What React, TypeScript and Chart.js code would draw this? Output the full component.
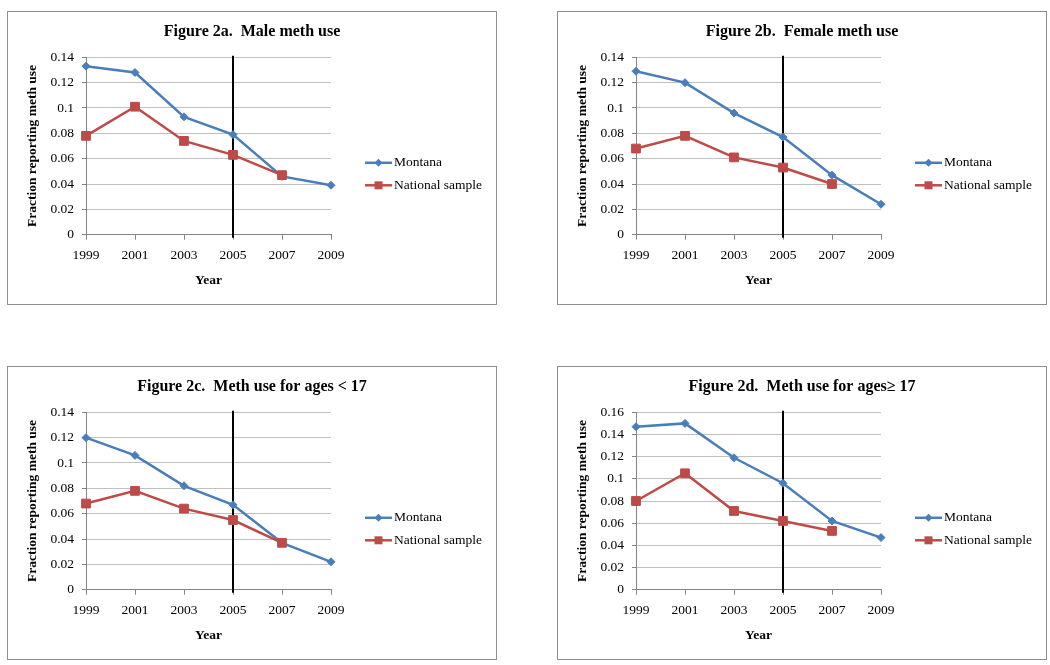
import React, { useEffect, useRef } from 'react';
import { Chart, registerables } from 'chart.js';

Chart.register(...registerables);

const YEARS = ['1999', '2001', '2003', '2005', '2007', '2009'];
const SERIES_LABELS = ['Montana', 'National sample'];
const MARKER_YEAR = '2005';

const MALE_MONTANA = [0.133, 0.128, 0.093, 0.079, 0.046, 0.039];
const MALE_NATIONAL = [0.078, 0.101, 0.074, 0.063, 0.047, null];
const FEMALE_MONTANA = [0.129, 0.12, 0.096, 0.077, 0.047, 0.024];
const FEMALE_NATIONAL = [0.068, 0.078, 0.061, 0.053, 0.04, null];
const YOUNG_MONTANA = [0.12, 0.106, 0.082, 0.067, 0.037, 0.022];
const YOUNG_NATIONAL = [0.068, 0.078, 0.064, 0.055, 0.037, null];
const OLDER_MONTANA = [0.147, 0.15, 0.119, 0.096, 0.062, 0.047];
const OLDER_NATIONAL = [0.08, 0.105, 0.071, 0.062, 0.053, null];

const TITLES = [
  'Figure 2a.  Male meth use',
  'Figure 2b.  Female meth use',
  'Figure 2c.  Meth use for ages < 17',
  'Figure 2d.  Meth use for ages\u2265 17',
];
const Y_MAX = [0.14, 0.14, 0.14, 0.16];
const Y_STEP = 0.02;
const X_TITLE = 'Year';
const Y_TITLE = 'Fraction reporting meth use';

const FONT = "'Liberation Serif', 'Times New Roman', serif";
const BLUE = '#4A7EBB';
const RED = '#BE4B48';
const AXIS_GRAY = '#868686';
const GRID_GRAY = '#c0c0c0';

const CANVAS_W = 488;
const CANVAS_H = 292;

const markerLinePlugin = {
  id: 'markerLine',
  beforeDatasetsDraw(chart: any) {
    const { ctx, chartArea, scales } = chart;
    const x = scales.x.getPixelForValue(YEARS.indexOf(MARKER_YEAR));
    ctx.save();
    ctx.strokeStyle = '#000';
    ctx.lineWidth = 2;
    ctx.beginPath();
    ctx.moveTo(x, chartArea.top - 1.5);
    ctx.lineTo(x, chartArea.bottom + 3);
    ctx.stroke();
    ctx.restore();
  },
};

const legendPlugin = {
  id: 'excelLegend',
  afterDraw(chart: any) {
    const { ctx, chartArea } = chart;
    const x0 = chartArea.right + 34;
    chart.data.datasets.forEach((ds: any, i: number) => {
      const y = chartArea.top + 105.5 + i * 22.5;
      ctx.save();
      ctx.strokeStyle = ds.borderColor;
      ctx.lineWidth = 2.5;
      ctx.beginPath();
      ctx.moveTo(x0, y);
      ctx.lineTo(x0 + 27, y);
      ctx.stroke();
      ctx.fillStyle = ds.borderColor;
      const cx = x0 + 13.5;
      ctx.beginPath();
      if (ds.pointStyle === 'rectRot') {
        const r = 4;
        ctx.moveTo(cx, y - r);
        ctx.lineTo(cx + r, y);
        ctx.lineTo(cx, y + r);
        ctx.lineTo(cx - r, y);
        ctx.closePath();
      } else {
        const s = 4;
        ctx.rect(cx - s, y - s, 2 * s, 2 * s);
      }
      ctx.fill();
      ctx.fillStyle = '#000';
      ctx.font = `13.5px ${FONT}`;
      ctx.textAlign = 'left';
      ctx.textBaseline = 'middle';
      ctx.fillText(ds.label, x0 + 29, y);
      ctx.restore();
    });
  },
};

function Panel(props: {
  title: string;
  montana: (number | null)[];
  national: (number | null)[];
  yMax: number;
  left: number;
  top: number;
}) {
  const ref = useRef<HTMLCanvasElement | null>(null);

  useEffect(() => {
    if (!ref.current) return;
    const chart = new Chart(ref.current, {
      type: 'line',
      data: {
        labels: YEARS,
        datasets: [
          {
            label: SERIES_LABELS[0],
            data: props.montana,
            borderColor: BLUE,
            backgroundColor: BLUE,
            borderWidth: 2.5,
            pointStyle: 'rectRot',
            pointRadius: 4,
            pointBorderWidth: 1,
            pointBackgroundColor: BLUE,
            pointBorderColor: BLUE,
            tension: 0,
            order: 1,
            yAxisID: 'y',
          },
          {
            label: SERIES_LABELS[1],
            data: props.national,
            borderColor: RED,
            backgroundColor: RED,
            borderWidth: 2.5,
            pointStyle: 'rect',
            pointRadius: 6.2,
            pointBorderWidth: 1,
            pointBackgroundColor: RED,
            pointBorderColor: RED,
            tension: 0,
            order: 0,
            yAxisID: 'y',
          },
        ],
      },
      options: {
        animation: false,
        responsive: false,
        devicePixelRatio: 1,
        events: [],
        layout: { padding: 0 },
        plugins: {
          legend: { display: false },
          tooltip: { enabled: false },
          title: {
            display: true,
            text: props.title,
            color: '#000',
            font: { family: FONT, size: 16, weight: 'bold' },
            padding: { top: 10.4, bottom: 15.7 },
          },
        },
        scales: {
          x: {
            type: 'category',
            offset: false,
            grid: {
              drawOnChartArea: false,
              drawTicks: true,
              tickLength: 5,
              tickColor: AXIS_GRAY,
              offset: false,
            },
            border: { display: true, color: AXIS_GRAY, width: 1 },
            ticks: {
              color: '#000',
              font: { family: FONT, size: 13.5 },
              padding: 7.2,
              maxRotation: 0,
              autoSkip: false,
            },
            title: {
              display: true,
              text: X_TITLE,
              color: '#000',
              font: { family: FONT, size: 13.5, weight: 'bold' },
              padding: { top: 0, bottom: 14.9 },
            },
            afterFit: (scale: any) => {
              scale.height = 69.3;
            },
          },
          y: {
            type: 'linear',
            position: 'left',
            min: 0,
            max: props.yMax,
            grid: {
              color: GRID_GRAY,
              lineWidth: 1,
              drawTicks: true,
              tickLength: 4,
              tickColor: AXIS_GRAY,
            },
            border: { display: true, color: AXIS_GRAY, width: 1 },
            ticks: {
              stepSize: Y_STEP,
              color: '#000',
              font: { family: FONT, size: 13.5 },
              padding: 8,
              callback: (v: any) => String(Number(Number(v).toFixed(2))),
            },
            title: {
              display: true,
              text: Y_TITLE,
              color: '#000',
              font: { family: FONT, size: 13.5, weight: 'bold' },
              padding: { top: 16.2, bottom: 0 },
            },
            afterFit: (scale: any) => {
              scale.width = 78;
            },
          },
          legendSpace: {
            type: 'linear',
            position: 'right',
            display: true,
            grid: { display: false, drawTicks: false },
            border: { display: false },
            ticks: { display: false },
            afterFit: (scale: any) => {
              scale.width = 165;
            },
          },
        },
      } as any,
      plugins: [markerLinePlugin, legendPlugin],
    });
    return () => chart.destroy();
  }, []);

  return (
    <div
      style={{
        position: 'absolute',
        left: props.left,
        top: props.top,
        width: 490,
        height: 294,
        boxSizing: 'border-box',
        border: '1px solid #8e8e8e',
        background: '#fff',
      }}
    >
      <canvas
        ref={ref}
        width={CANVAS_W}
        height={CANVAS_H}
        style={{ display: 'block', width: CANVAS_W, height: CANVAS_H }}
      />
    </div>
  );
}

export default function App() {
  return (
    <div
      style={{
        position: 'absolute',
        left: 0,
        top: 0,
        width: 1050,
        height: 665,
        background: '#fff',
      }}
    >
      <Panel title={TITLES[0]} montana={MALE_MONTANA} national={MALE_NATIONAL} yMax={Y_MAX[0]} left={7} top={11} />
      <Panel title={TITLES[1]} montana={FEMALE_MONTANA} national={FEMALE_NATIONAL} yMax={Y_MAX[1]} left={557} top={11} />
      <Panel title={TITLES[2]} montana={YOUNG_MONTANA} national={YOUNG_NATIONAL} yMax={Y_MAX[2]} left={7} top={366} />
      <Panel title={TITLES[3]} montana={OLDER_MONTANA} national={OLDER_NATIONAL} yMax={Y_MAX[3]} left={557} top={366} />
    </div>
  );
}
